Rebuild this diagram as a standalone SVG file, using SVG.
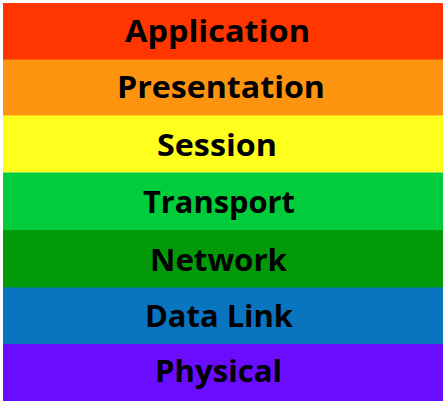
<svg xmlns="http://www.w3.org/2000/svg" width="446" height="404" viewBox="0 0 446 404">
<style>
.t{font-family:"Open Sans","Liberation Sans",sans-serif;font-weight:700;font-size:31px;fill:#000;text-anchor:middle;font-variant-ligatures:none}
</style>
<rect width="446" height="404" fill="#fff"/>
<g id="application"><rect x="3" y="3" width="440" height="57" fill="#FF3600"/><text class="t" x="217.5" y="42" textLength="185" lengthAdjust="spacingAndGlyphs">Application</text></g>
<g id="presentation"><rect x="3" y="59.5" width="440" height="57" fill="#FD9410"/><text class="t" x="221" y="98" textLength="208" lengthAdjust="spacingAndGlyphs">Presentation</text></g>
<g id="session"><rect x="3" y="115.5" width="440" height="57" fill="#FFFF1E"/><text class="t" x="217" y="156" textLength="120" lengthAdjust="spacingAndGlyphs">Session</text></g>
<g id="transport"><rect x="3" y="172.5" width="440" height="58" fill="#00CC3C"/><text class="t" x="219" y="213" textLength="152" lengthAdjust="spacingAndGlyphs">Transport</text></g>
<g id="network"><rect x="3" y="230" width="440" height="58" fill="#039A0A"/><text class="t" x="218.5" y="271" textLength="137" lengthAdjust="spacingAndGlyphs">Network</text></g>
<g id="datalink"><rect x="3" y="287.5" width="440" height="57" fill="#0A75BF"/><text class="t" x="219" y="327" textLength="148" lengthAdjust="spacingAndGlyphs">Data Link</text></g>
<g id="physical"><rect x="3" y="344" width="440" height="57" fill="#6A0CFE"/><text class="t" x="218.5" y="382" textLength="127" lengthAdjust="spacingAndGlyphs">Physical</text></g>
</svg>
